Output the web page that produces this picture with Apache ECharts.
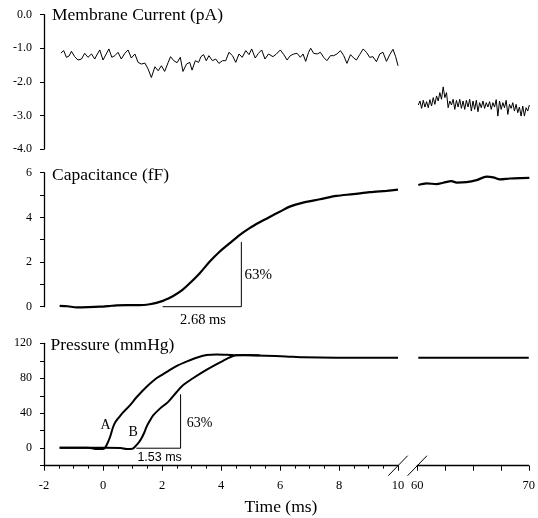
<!DOCTYPE html>
<html><head><meta charset="utf-8">
<script src="https://cdn.jsdelivr.net/npm/echarts@6/dist/echarts.min.js"></script>
<style>html,body{margin:0;padding:0;background:#fff}#c{width:538px;height:518px}</style>
</head><body><div id="c"></div>
<script>
// ---------- DATA ----------
// Membrane current (pA), early segment: [time ms, current]
const currentEarly = [
[-1.43,-1.14],[-1.33,-1.07],[-1.24,-1.27],[-1.15,-1.23],[-1.07,-1.09],[-0.96,-1.25],[-0.85,-1.35],[-0.73,-1.32],
[-0.62,-1.15],[-0.51,-1.27],[-0.39,-1.17],[-0.28,-1.32],[-0.19,-1.17],[-0.11,-1.05],[0.00,-1.35],[0.11,-1.17],
[0.20,-1.02],[0.30,-1.27],[0.40,-1.22],[0.51,-1.12],[0.62,-1.32],[0.74,-1.15],[0.85,-1.05],[0.96,-1.29],
[1.08,-1.17],[1.19,-1.42],[1.30,-1.47],[1.42,-1.44],[1.53,-1.62],[1.64,-1.87],[1.76,-1.55],[1.87,-1.67],
[1.98,-1.52],[2.09,-1.69],[2.21,-1.42],[2.29,-1.25],[2.40,-1.37],[2.51,-1.43],[2.62,-1.27],[2.71,-1.69],
[2.83,-1.47],[2.94,-1.42],[3.02,-1.65],[3.13,-1.37],[3.24,-1.42],[3.32,-1.25],[3.41,-1.19],[3.50,-1.37],
[3.59,-1.22],[3.71,-1.37],[3.82,-1.32],[3.93,-1.45],[4.05,-1.37],[4.16,-1.37],[4.27,-1.12],[4.39,-1.22],
[4.50,-1.42],[4.61,-1.17],[4.72,-1.27],[4.84,-1.07],[4.95,-1.19],[5.04,-1.02],[5.16,-1.29],[5.27,-1.15],
[5.38,-1.05],[5.49,-1.32],[5.61,-1.17],[5.76,-1.25],[5.88,-1.17],[6.01,-1.05],[6.13,-1.19],[6.24,-1.35],
[6.35,-1.22],[6.47,-1.17],[6.58,-1.15],[6.69,-1.27],[6.78,-1.17],[6.87,-1.39],[6.97,-1.12],[7.04,-1.00],
[7.14,-1.15],[7.26,-1.17],[7.37,-1.12],[7.48,-1.27],[7.59,-1.37],[7.71,-1.22],[7.82,-1.22],[7.93,-1.17],
[8.05,-1.07],[8.16,-1.22],[8.27,-1.45],[8.39,-1.19],[8.50,-1.29],[8.59,-1.35],[8.70,-1.19],[8.82,-1.02],
[8.93,-1.12],[9.04,-1.27],[9.15,-1.25],[9.27,-1.40],[9.38,-1.17],[9.49,-1.12],[9.61,-1.39],[9.72,-1.19],
[9.83,-1.03],[9.92,-1.25],[10.0,-1.52]
];
// Membrane current, late segment: sampled from 60.09 ms every 0.148 ms
const currentLateStart = 60.09;
const currentLateStep = 0.148;
const currentLateValues = [
-2.69,-2.57,-2.79,-2.55,-2.75,-2.59,-2.77,-2.53,-2.72,-2.47,-2.67,-2.42,-2.57,-2.32,-2.52,-2.15,-2.47,-2.32,
-2.77,-2.57,-2.69,-2.52,-2.82,-2.55,-2.75,-2.52,-2.79,-2.57,-2.82,-2.55,-2.75,-2.52,-2.87,-2.57,-2.82,-2.55,
-2.89,-2.62,-2.77,-2.57,-2.79,-2.62,-2.75,-2.59,-2.82,-2.62,-2.75,-2.53,-3.02,-2.57,-2.82,-2.62,-2.77,-2.55,
-2.97,-2.67,-2.79,-2.62,-2.87,-2.67,-2.92,-2.75,-3.02,-2.72,-3.02,-2.77,-2.87,-2.69
];
// Capacitance (fF)
const capEarly = [
[-1.47,0.04],[-1.2,0.02],[-0.9,-0.03],[-0.5,-0.02],[-0.11,0],[0.2,0.03],[0.46,0.06],[0.8,0.07],[1.25,0.07],
[1.58,0.11],[1.81,0.17],[2.03,0.26],[2.2,0.36],[2.38,0.48],[2.66,0.72],[2.94,1.05],[3.28,1.5],[3.62,2.02],
[3.96,2.47],[4.3,2.85],[4.64,3.22],[4.97,3.52],[5.31,3.78],[5.65,4.02],[5.99,4.25],[6.33,4.48],[6.78,4.66],
[7.35,4.81],[7.91,4.96],[8.48,5.04],[9.04,5.13],[9.61,5.19],[10,5.24]
];
const capLate = [
[60.09,5.45],[60.83,5.52],[61.72,5.49],[62.32,5.55],[63.06,5.62],[63.51,5.56],[64.4,5.58],[65.29,5.67],
[66.19,5.82],[66.78,5.79],[67.38,5.7],[68.27,5.74],[69.17,5.76],[70,5.77]
];
// Pressure (mmHg)
const pressureA = [
[-1.47,0.5],[-0.5,0.5],[-0.25,-0.8],[0.0,-0.8],[0.08,1],[0.17,7],[0.25,14],[0.34,24],[0.42,30],[0.51,34],
[0.68,41],[0.91,49],[1.13,58],[1.47,70],[1.81,80],[2.15,87],[2.49,94],[2.83,99],[3.17,103.5],[3.51,106.5],
[3.85,107.3],[4.41,106.6],[4.97,106.2],[5.5,105.8],[6.2,105],[6.78,104],[7.91,103.5],[10,103.5]
];
const pressureB = [
[-1.47,0.5],[0.1,0.5],[0.6,0.3],[0.8,-0.8],[1.0,-0.5],[1.13,3.4],[1.22,7],[1.3,11],[1.4,18],[1.47,24],
[1.58,31],[1.7,37.5],[1.92,45],[2.21,53],[2.49,64],[2.71,72],[3.05,80],[3.39,87.4],[3.73,94],[4.07,100],
[4.41,105.5],[4.75,106.6],[5.31,106.2]
];
const pressureLate = [[60.09,103.5],[65,103.5],[70,103.5]];
// 63% scale bars
const capScaleBar = [[2.02,0],[4.69,0],[4.69,2.9]];
const pressureScaleBar = [[1.13,0],[2.63,0],[2.63,61.7]];
// tick labels
const xLabelsEarly = [-2,0,2,4,6,8,10];
const xLabelsLate = [60,70];
const currentTickLabels = ['0.0','-1.0','-2.0','-3.0','-4.0'];
const capTickLabels = [0,2,4,6];
const pressureTickLabels = [0,40,80,120];
// texts
const titles = ['Membrane Current (pA)','Capacitance (fF)','Pressure (mmHg)'];
const xTitle = 'Time (ms)';

// ---------- CHART ----------
const SERIF = '"Liberation Serif","Times New Roman",serif';
const chart = echarts.init(document.getElementById('c'), null, {renderer:'canvas'});
const currentLate = currentLateValues.map((v,i)=>[+(currentLateStart+i*currentLateStep).toFixed(3), v]);

const rows = [{top:14.7,height:134.3},{top:172.7,height:134},{top:343.3,height:122.4}];
const grids = [];
rows.forEach(r=>{
  grids.push({left:44,width:354,top:r.top,height:r.height});
  grids.push({left:417.3,width:112,top:r.top,height:r.height});
});
const black = '#000';
const xAxes = grids.map((g,i)=>{
  const early = i%2===0, show = i>=4;
  return {
    gridIndex:i, type:'value', show:show,
    min: early?-2:60, max: early?10:70, interval: early?2:2.5,
    axisLine:{show:show,onZero:false,lineStyle:{color:black,width:1.3}},
    axisTick:{show:show,length:5,lineStyle:{color:black}},
    minorTick:{show:show&&early,splitNumber:4,length:3,lineStyle:{color:black}},
    splitLine:{show:false},minorSplitLine:{show:false},
    axisLabel:{show:show,color:black,fontFamily:SERIF,fontSize:12.5,margin:14,
      formatter:v=>{const L=early?xLabelsEarly:xLabelsLate; return L.indexOf(Math.round(v*10)/10)>=0?String(v):'';}}
  };
});
const yCfg = [
  {min:-4,max:0,interval:1,fmt:v=>{let s=v.toFixed(1); if(s==='-0.0')s='0.0'; return currentTickLabels.indexOf(s)>=0?s:'';}},
  {min:0,max:6,interval:1,fmt:v=>capTickLabels.indexOf(v)>=0?String(v):''},
  {min:-20,max:120,interval:20,fmt:v=>pressureTickLabels.indexOf(v)>=0?String(v):''}
];
const yAxes = grids.map((g,i)=>{
  const c = yCfg[Math.floor(i/2)], show = i%2===0;
  return {
    gridIndex:i,type:'value',show:show,min:c.min,max:c.max,interval:c.interval,
    axisLine:{show:show,onZero:false,lineStyle:{color:black,width:1.3}},
    axisTick:{show:show,length:4,lineStyle:{color:black}},
    splitLine:{show:false},
    axisLabel:{show:show,color:black,fontFamily:SERIF,fontSize:12,margin:12,formatter:c.fmt}
  };
});
function line(idx,data,w,smooth){
  return {type:'line',xAxisIndex:idx,yAxisIndex:idx,data:data,showSymbol:false,symbol:'none',smooth:smooth||false,
    lineStyle:{color:black,width:w},silent:true,animation:false,clip:false};
}
const series = [
  line(0,currentEarly,1), line(1,currentLate,1),
  line(2,capEarly,2.2,0.3), line(3,capLate,2.2,0.3), line(2,capScaleBar,1),
  line(4,pressureA,2,0.3), line(4,pressureB,2,0.3), line(5,pressureLate,2), line(4,pressureScaleBar,1)
];
chart.setOption({animation:false,backgroundColor:'#fff',grid:grids,xAxis:xAxes,yAxis:yAxes,series:series});

// annotations placed in data coordinates
function px(idx,pt){return chart.convertToPixel({xAxisIndex:idx,yAxisIndex:idx},pt);}
function txt(p,text,size,align,family){
  return {type:'text',x:p[0],y:p[1],silent:true,style:{text:text,fill:black,font:size+'px '+(family||SERIF),align:align||'center',verticalAlign:'middle'}};
}
const g = [];
g.push(txt([52,15],titles[0],17.5,'left'));
g.push(txt([52,175],titles[1],17.5,'left'));
g.push(txt([50.5,345],titles[2],17.5,'left'));
g.push(txt([281,507],xTitle,17.5,'center'));
g.push(txt(px(2,[3.39,-0.6]),'2.68 ms',14.5,'center'));
g.push(txt(px(2,[4.8,1.42]),'63%',15,'left'));
g.push(txt(px(4,[2.84,28]),'63%',14,'left'));
g.push(txt(px(4,[1.92,-10.3]),'1.53 ms',12.5,'center','"Liberation Sans",Arial,sans-serif'));
g.push(txt(px(4,[0.085,26]),'A',14,'center'));
g.push(txt(px(4,[1.02,18.4]),'B',14,'center'));
// axis break marks
const b1 = px(4,[10,-20]), b2 = px(5,[60,-20]);
[b1,b2].forEach(b=>{
  g.push({type:'line',silent:true,shape:{x1:b[0]-9.7,y1:b[1]+10,x2:b[0]+9.7,y2:b[1]-10},style:{stroke:black,lineWidth:1}});
});
chart.setOption({graphic:g});
</script></body></html>
